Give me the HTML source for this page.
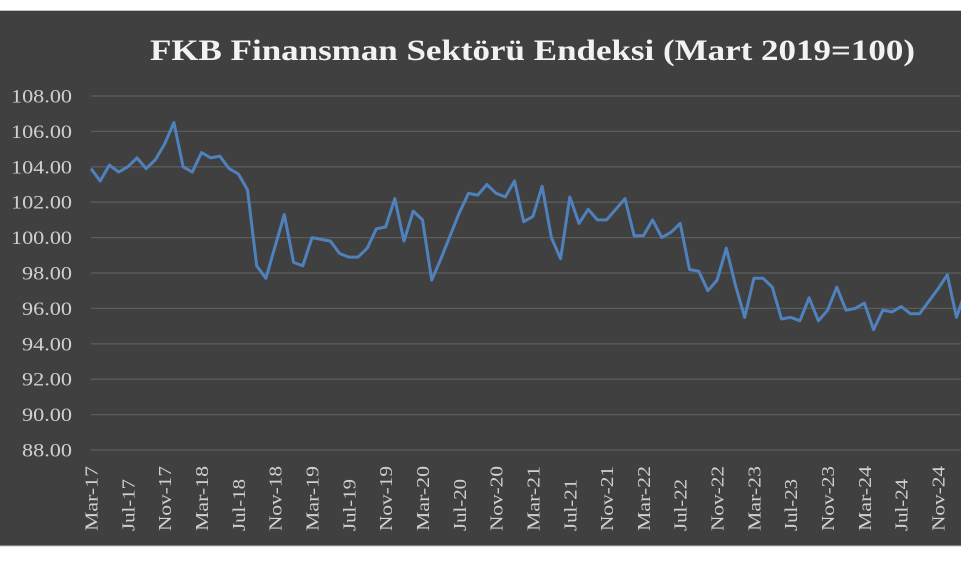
<!DOCTYPE html>
<html><head><meta charset="utf-8"><style>
html,body{margin:0;padding:0;background:#fff;}
svg{display:block}
</style></head><body>
<svg id="s" width="961" height="570" xmlns="http://www.w3.org/2000/svg">
<rect x="0" y="10" width="961" height="536" fill="#404040"/>
<line x1="0" y1="10.5" x2="961" y2="10.5" stroke="#bfbfbf" stroke-width="1"/>
<line x1="0" y1="546" x2="961" y2="546" stroke="#bfbfbf" stroke-width="1"/>
<text x="150" y="60" textLength="765" lengthAdjust="spacingAndGlyphs" font-family="Liberation Serif, serif" font-weight="bold" font-size="30" fill="#f2f2f2">FKB Finansman Sektörü Endeksi (Mart 2019=100)</text>
<g id="grid"></g>
<g id="yl" font-family="Liberation Serif, serif" font-size="19" fill="#d0d0d0" text-anchor="end"></g>
<g id="xl" font-family="Liberation Serif, serif" font-size="18" fill="#d0d0d0" text-anchor="start"></g>
<polyline id="pl" fill="none" stroke="#4f81bd" stroke-width="3" stroke-linejoin="round"/>
</svg>
<script>
var NS="http://www.w3.org/2000/svg";
function Y(v){return 96+(108-v)*17.7;}
function X(i){return 91+i*9.207;}
var g=document.getElementById('grid'),yl=document.getElementById('yl'),xl=document.getElementById('xl');
for(var v=88;v<=108;v+=2){
 var l=document.createElementNS(NS,'line');l.setAttribute('x1',91);l.setAttribute('x2',961);
 l.setAttribute('y1',Y(v));l.setAttribute('y2',Y(v));l.setAttribute('stroke','#5c5c5c');l.setAttribute('stroke-width','1.3');g.appendChild(l);
 var t=document.createElementNS(NS,'text');t.setAttribute('x',72);t.setAttribute('y',Y(v)+6.5);t.textContent=v.toFixed(2);
 t.setAttribute('textLength', v>=100?61:50);t.setAttribute('lengthAdjust','spacingAndGlyphs');yl.appendChild(t);
}
var mons=['Mar','Jul','Nov'];
for(var k=0;k<24;k++){
 var yr=17+Math.floor(k/3), m=mons[k%3];
 var t=document.createElementNS(NS,'text');var x=X(k*4)+6.5;
 t.setAttribute('transform','translate('+x+',531) rotate(-90)');t.textContent=m+'-'+yr;
 t.setAttribute('textLength', m=='Jul'?52:65);t.setAttribute('lengthAdjust','spacingAndGlyphs');xl.appendChild(t);
}
var d=[103.9,103.2,104.1,103.7,104.0,104.5,103.9,104.4,105.3,106.5,104.0,103.7,104.8,104.5,104.6,103.9,103.6,102.7,98.4,97.7,99.5,101.3,98.6,98.4,100.0,99.9,99.8,99.1,98.9,98.9,99.4,100.5,100.6,102.2,99.8,101.5,101.0,97.6,98.8,100.1,101.4,102.5,102.4,103.0,102.5,102.3,103.2,100.9,101.2,102.9,100.0,98.8,102.3,100.8,101.6,101.0,101.0,101.6,102.2,100.1,100.1,101.0,100.0,100.3,100.8,98.2,98.1,97.0,97.6,99.4,97.3,95.5,97.7,97.7,97.2,95.4,95.5,95.3,96.6,95.3,95.9,97.2,95.9,96.0,96.3,94.8,95.9,95.8,96.1,95.7,95.7,96.4,97.1,97.9,95.5,97.0];
var p=d.map(function(v,i){return X(i).toFixed(1)+','+Y(v).toFixed(1);}).join(' ');
document.getElementById('pl').setAttribute('points',p);
</script>
</body></html>
